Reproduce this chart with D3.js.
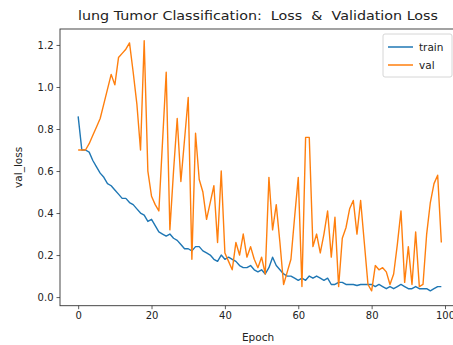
<!DOCTYPE html>
<html>
<head>
<meta charset="utf-8">
<script src="https://cdn.jsdelivr.net/npm/d3@7"></script>
<style>
  html, body { margin: 0; padding: 0; background: #fff; }
  svg { display: block; font-family: "DejaVu Sans", sans-serif; }
</style>
</head>
<body>
<svg id="chart" width="453" height="345"></svg>
<script>
const epochs = d3.range(0, 100);
const trainLoss = [
  0.86, 0.70, 0.70, 0.69, 0.65, 0.62, 0.59, 0.57, 0.54, 0.53,
  0.51, 0.49, 0.47, 0.47, 0.45, 0.44, 0.42, 0.40, 0.39, 0.36,
  0.37, 0.34, 0.31, 0.30, 0.29, 0.30, 0.28, 0.27, 0.25, 0.23,
  0.23, 0.22, 0.24, 0.24, 0.22, 0.21, 0.20, 0.18, 0.17, 0.20,
  0.18, 0.19, 0.18, 0.17, 0.15, 0.14, 0.14, 0.15, 0.13, 0.12,
  0.13, 0.11, 0.14, 0.19, 0.15, 0.13, 0.11, 0.10, 0.10, 0.09,
  0.08, 0.09, 0.08, 0.10, 0.09, 0.10, 0.09, 0.08, 0.09, 0.06,
  0.06, 0.07, 0.07, 0.06, 0.06, 0.06, 0.055, 0.06, 0.06, 0.06,
  0.06, 0.05, 0.06, 0.05, 0.04, 0.05, 0.04, 0.05, 0.06, 0.05,
  0.04, 0.04, 0.05, 0.04, 0.04, 0.04, 0.03, 0.04, 0.05, 0.05
];
const valLoss = [
  0.70, 0.70, 0.70, 0.73, 0.77, 0.81, 0.85, 0.92, 0.99, 1.06,
  1.01, 1.14, 1.16, 1.18, 1.21, 1.07, 0.92, 0.70, 1.22, 0.60,
  0.48, 0.44, 0.41, 0.74, 1.07, 0.32, 0.60, 0.85, 0.55, 0.75,
  0.95, 0.18, 0.78, 0.56, 0.50, 0.37, 0.45, 0.53, 0.26, 0.60,
  0.21, 0.17, 0.13, 0.26, 0.20, 0.30, 0.19, 0.24, 0.18, 0.14,
  0.19, 0.11, 0.57, 0.32, 0.44, 0.26, 0.06, 0.12, 0.18, 0.38,
  0.57, 0.05, 0.76, 0.76, 0.24, 0.30, 0.21, 0.30, 0.41, 0.19,
  0.38, 0.05, 0.28, 0.33, 0.42, 0.46, 0.30, 0.46, 0.26, 0.06,
  0.03, 0.15, 0.13, 0.14, 0.12, 0.06, 0.11, 0.25, 0.41, 0.07,
  0.24, 0.06, 0.31, 0.05, 0.06, 0.30, 0.45, 0.54, 0.58, 0.26
];
const xTicks = [0, 20, 40, 60, 80, 100];
const yTicks = [0.0, 0.2, 0.4, 0.6, 0.8, 1.0, 1.2];
const seriesNames = ["train", "val"];
const seriesColors = ["#1f77b4", "#ff7f0e"];
const titleText = "lung Tumor Classification:  Loss  &  Validation Loss";
const xLabel = "Epoch";
const yLabel = "val_loss";

const svg = d3.select("#chart");
const L = 60, R = 459.5, T = 29, B = 305.7;

const x = d3.scaleLinear().domain([-4.95, 103.95]).range([L, R]);
const y = d3.scaleLinear().domain([-0.041, 1.276]).range([B, T]);

const axisColor = "#333";

const xAxis = svg.append("g").attr("transform", `translate(0,${B})`)
  .call(d3.axisBottom(x).tickValues(xTicks).tickFormat(d3.format("d")).tickSize(3.5).tickPadding(3));
const yAxis = svg.append("g").attr("transform", `translate(${L},0)`)
  .call(d3.axisLeft(y).tickValues(yTicks).tickFormat(d3.format(".1f")).tickSize(3.5).tickPadding(3));
[xAxis, yAxis].forEach(g => {
  g.select(".domain").remove();
  g.selectAll(".tick line").attr("stroke", axisColor).attr("stroke-width", 0.8);
  g.selectAll(".tick text").attr("fill", "#222").style("font-size", "10px").style("font-family", "DejaVu Sans");
});

const line = d3.line().x((d, i) => x(epochs[i])).y(d => y(d));
svg.append("clipPath").attr("id", "clip").append("rect")
  .attr("x", L).attr("y", T).attr("width", R - L).attr("height", B - T);
const plot = svg.append("g").attr("clip-path", "url(#clip)");
[trainLoss, valLoss].forEach((s, k) => {
  plot.append("path").datum(s)
    .attr("fill", "none").attr("stroke", seriesColors[k])
    .attr("stroke-width", 1.4).attr("stroke-linejoin", "round")
    .attr("d", line);
});

svg.append("rect").attr("x", L).attr("y", T).attr("width", R - L).attr("height", B - T)
  .attr("fill", "none").attr("stroke", axisColor).attr("stroke-width", 0.9);

svg.append("text").attr("x", 258).attr("y", 20).attr("text-anchor", "middle")
  .style("font-size", "13px").style("white-space", "pre").attr("fill", "#222")
  .attr("textLength", 360).attr("lengthAdjust", "spacingAndGlyphs")
  .text(titleText);

svg.append("text").attr("x", 258).attr("y", 341).attr("text-anchor", "middle")
  .style("font-size", "10.5px").attr("fill", "#222").text(xLabel);
svg.append("text").attr("transform", `translate(22,${(T + B) / 2}) rotate(-90)`)
  .attr("text-anchor", "middle").style("font-size", "10.5px").attr("fill", "#222").text(yLabel);

const lg = svg.append("g").attr("transform", "translate(383,34)");
lg.append("rect").attr("width", 69).attr("height", 43).attr("rx", 2)
  .attr("fill", "#fff").attr("fill-opacity", 0.8).attr("stroke", "#ccc").attr("stroke-width", 0.8);
seriesNames.forEach((n, i) => {
  const yy = 13 + i * 18;
  lg.append("line").attr("x1", 5).attr("x2", 30).attr("y1", yy).attr("y2", yy)
    .attr("stroke", seriesColors[i]).attr("stroke-width", 1.5);
  lg.append("text").attr("x", 36).attr("y", yy + 3.5).style("font-size", "10.5px")
    .attr("fill", "#222").text(n);
});
</script>
</body>
</html>
